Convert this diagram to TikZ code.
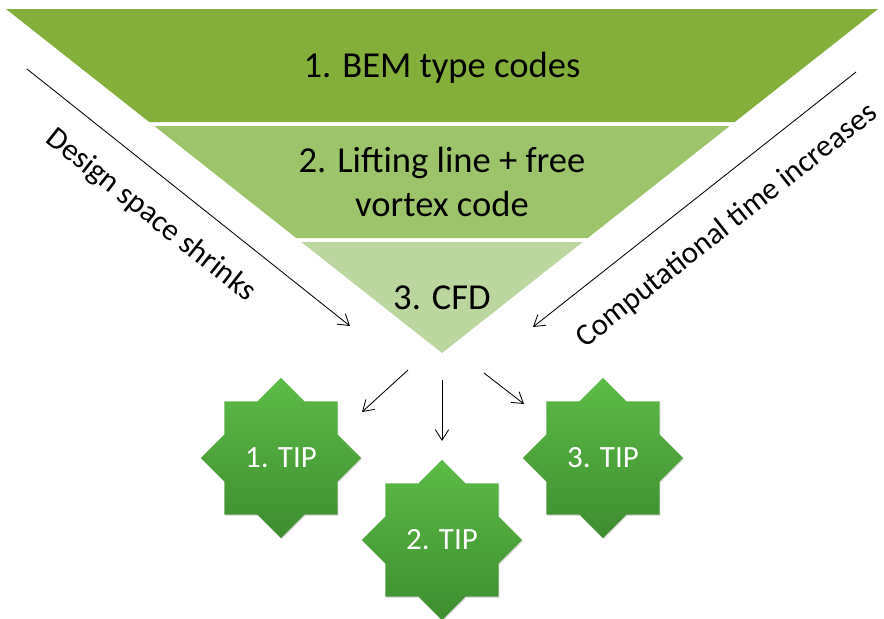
\documentclass[tikz,border=0pt]{standalone}
\usepackage{fontspec}
\setmainfont{Carlito}
\usetikzlibrary{shapes.geometric,arrows.meta,shadows}

\definecolor{bandone}{RGB}{131,175,58}
\definecolor{bandtwo}{RGB}{157,196,107}
\definecolor{bandthree}{RGB}{187,214,158}
\definecolor{startop}{RGB}{92,187,70}
\definecolor{starbot}{RGB}{62,141,48}

\tikzset{
  tipstar/.style={star, star points=8, star point ratio=1.3066, minimum size=4cm,
    inner sep=0pt, top color=startop, bottom color=starbot, text=white,
    drop shadow={opacity=0.25, shadow xshift=0.6pt, shadow yshift=-1pt},
    font=\fontsize{22}{26}\selectfont},
  bandtext/.style={font=\fontsize{26}{31}\selectfont, align=center},
  sidetext/.style={font=\fontsize{22}{26}\selectfont}
}

\begin{document}
\begin{tikzpicture}[x=0.025cm, y=-0.025cm, line width=0.6pt,
    >={Straight Barb[length=7.5pt, width=9.5pt]}]
    \useasboundingbox (0,0) rectangle (884,619);

    % funnel
    \fill[bandone] (6,9) -- (878,9) -- (734.8,122) -- (149.2,122) -- cycle;
    \fill[bandtwo] (154.3,126) -- (729.7,126) -- (587.8,238) -- (296.2,238) -- cycle;
    \fill[bandthree] (301.3,242) -- (582.7,242) -- (442,353) -- cycle;

    \node[bandtext] (bem) at (442,68) {1. BEM type codes};
    \node[bandtext] (llfv) at (442,182) {2. Lifting line + free\\vortex code};
    \node[bandtext] (cfd) at (442,298) {3. CFD};

    % side arrows
    \coordinate (dtop) at (27,69);
    \coordinate (dbot) at (350,326);
    \coordinate (cbot) at (533,327);
    \coordinate (ctop) at (856,72);
    \draw[->] (dtop) -- (dbot)
        node[pos=0.455, sloped, below=0.48cm, sidetext] (design) {Design space shrinks};
    \draw[<-] (cbot) -- (ctop)
        node[pos=0.522, sloped, below=0.56cm, sidetext] (comp) {Computational time increases};

    % tips
    \node[tipstar] (tip1) at (281,458) {1. TIP};
    \node[tipstar] (tip2) at (442,540) {2. TIP};
    \node[tipstar] (tip3) at (603,458) {3. TIP};

    \coordinate (a1s) at (408,370);
    \coordinate (a1e) at (362,412);
    \coordinate (a2s) at (442,380);
    \coordinate (a2e) at (442,441);
    \coordinate (a3s) at (484,373);
    \coordinate (a3e) at (524,404);
    \draw[->] (a1s) -- (a1e);
    \draw[->] (a2s) -- (a2e);
    \draw[->] (a3s) -- (a3e);

\end{tikzpicture}
\end{document}
